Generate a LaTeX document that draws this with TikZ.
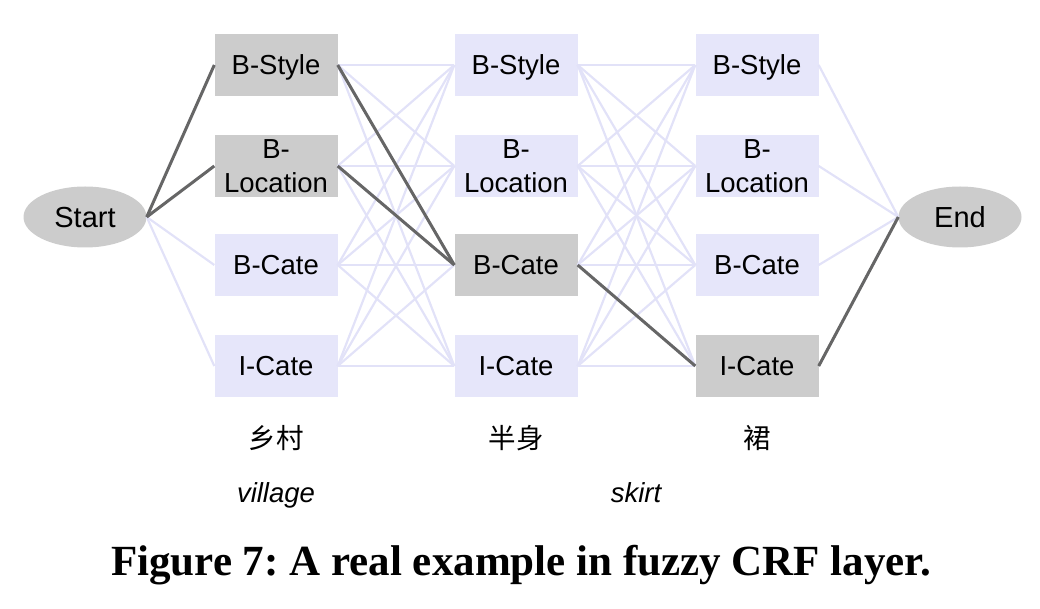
\documentclass[tikz,border=0pt]{standalone}
\usepackage{fontspec}
\setmainfont{Liberation Sans}
\newfontfamily\cjk{Noto Sans CJK SC}
\newfontfamily\capfont{Liberation Serif}
\usetikzlibrary{shapes.geometric}
\definecolor{lightbox}{HTML}{E6E6FA}
\definecolor{darkbox}{HTML}{CCCCCC}
\definecolor{lightline}{HTML}{E2E2F8}
\definecolor{darkline}{HTML}{666666}
\begin{document}
\begin{tikzpicture}[x=1pt,y=1pt,
  lab/.style={font=\fontsize{27.5}{34}\selectfont, inner sep=0pt, minimum width=123pt, minimum height=62pt, align=center},
  one/.style={text height=19.7pt, text depth=0pt},
  lbox/.style={lab, rectangle, fill=lightbox},
  gbox/.style={lab, rectangle, fill=darkbox},
  term/.style={lab, ellipse, fill=darkbox, minimum height=61pt, font=\fontsize{29}{34}\selectfont, text height=20.8pt, text depth=0pt},
  faint/.style={draw=lightline, line width=2.2pt},
  strong/.style={draw=darkline, line width=3pt},
  word/.style={inner sep=0pt, font=\fontsize{27.5}{33}\selectfont}]
\useasboundingbox (0,0) rectangle (1040,608);
% nodes
\node[term] (s) at (85,391) {Start};
\node[term] (e) at (960,391) {End};
\node[gbox, one] (a1) at (276,543) {B-Style};
\node[gbox] (a2) at (276,442) {B-\\Location};
\node[lbox, one] (a3) at (276,343) {B-Cate};
\node[lbox, one] (a4) at (276,242) {I-Cate};
\node[lbox, one] (b1) at (516,543) {B-Style};
\node[lbox] (b2) at (516,442) {B-\\Location};
\node[gbox, one] (b3) at (516,343) {B-Cate};
\node[lbox, one] (b4) at (516,242) {I-Cate};
\node[lbox, one] (c1) at (757,543) {B-Style};
\node[lbox] (c2) at (757,442) {B-\\Location};
\node[lbox, one] (c3) at (757,343) {B-Cate};
\node[gbox, one] (c4) at (757,242) {I-Cate};
% faint connectors
\foreach \i in {1,...,4} {
  \draw[faint] (s.east) -- (a\i.west);
  \draw[faint] (c\i.east) -- (e.west);
  \foreach \j in {1,...,4} {
    \draw[faint] (a\i.east) -- (b\j.west);
    \draw[faint] (b\i.east) -- (c\j.west);
  }
}
% best path
\draw[strong] (s.east) -- (a1.west);
\draw[strong] (s.east) -- (a2.west);
\draw[strong] (a1.east) -- (b3.west);
\draw[strong] (a2.east) -- (b3.west);
\draw[strong] (b3.east) -- (c4.west);
\draw[strong] (c4.east) -- (e.west);
% words
\node[word] (w1) at (276,170) {\cjk 乡村};
\node[word] (w2) at (516,170) {\cjk 半身};
\node[word] (w3) at (757,170) {\cjk 裙};
\node[word, anchor=base] (t1) at (276,106) {\itshape village};
\node[word, anchor=base] (t2) at (636,106) {\itshape skirt};
\node[inner sep=0pt, font=\capfont\bfseries\fontsize{43}{50}\selectfont] (cap) at (521,43) {\frenchspacing Figure 7: A real example in fuzzy CRF layer.};
\end{tikzpicture}
\end{document}
